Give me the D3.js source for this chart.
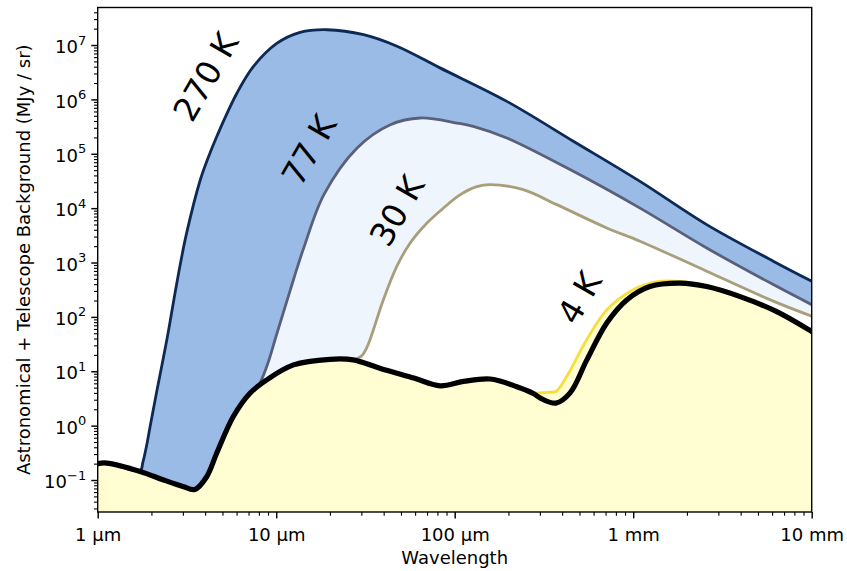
<!DOCTYPE html>
<html>
<head>
<meta charset="utf-8">
<script src="https://cdn.jsdelivr.net/npm/d3@7"></script>
<style>
  body { margin: 0; background: #fff; }
  text { font-family: "DejaVu Sans", sans-serif; }
</style>
</head>
<body>
<svg id="chart" width="847" height="571"></svg>
<script>
// Points are [wavelength in µm, surface brightness in MJy/sr].
// Astronomical background (zodiacal light, cirrus, CMB).
const astroBackground = [
  [1, 0.20], [1.12, 0.205], [1.73, 0.144], [2.34, 0.10], [3.0, 0.076], [3.5, 0.067],
  [4.08, 0.115], [4.64, 0.31], [5.75, 1.47], [7.13, 3.95], [8.85, 6.95], [12.5, 13.1],
  [20, 16.6], [27, 16.2], [38, 11.4], [59, 7.5], [83, 5.4], [112, 6.5], [158, 7.2],
  [223, 5.2], [276, 3.9], [302, 3.2], [369, 2.6], [443, 4.0], [549, 16], [711, 77],
  [920, 205], [1240, 361], [1830, 417], [2580, 361], [3970, 236], [6370, 125], [10000, 54]
];

// Total background with the telescope at each temperature, from where it
// rises above the astronomical background.
const total270K = [
  [1.73, 0.15], [1.79, 0.21], [1.88, 0.43], [1.97, 1.0], [2.14, 4.2], [2.44, 38],
  [2.67, 205], [2.9, 920], [3.15, 3500], [3.74, 3.16e4], [4.1, 7.5e4], [4.64, 2.06e5],
  [6.03, 1.31e6], [7.44, 4.0e6], [10.07, 1.07e7], [13.6, 1.71e7], [19.3, 1.91e7],
  [30.9, 1.55e7], [47.5, 9.5e6], [82.7, 3.8e6], [196, 9.2e5], [462, 1.7e5],
  [1092, 3.1e4], [2580, 4980], [6090, 1060], [10000, 453]
];
const total77K = [
  [7.9, 5.3], [8.85, 12.2], [10.1, 50], [12.0, 313], [13.1, 795], [14.3, 1900],
  [18.5, 1.77e4], [28.4, 1.28e5], [43.6, 3.43e5], [64.2, 4.55e5], [103, 3.68e5],
  [127, 3.2e5], [196, 1.95e5], [462, 4.75e4], [1092, 1.0e4], [2580, 1850],
  [6090, 393], [10000, 168]
];
const total30K = [
  [27, 16.4], [30, 19], [32.3, 28], [39.8, 205], [47.3, 841], [56.2, 2265],
  [69.7, 5270], [86.3, 9950], [107, 1.75e4], [133, 2.48e4], [158, 2.7e4],
  [242, 2.19e4], [373, 1.16e4], [711, 4330], [1092, 2470], [2580, 692],
  [6090, 195], [10000, 103]
];
const total4K = [
  [276, 4.0], [330, 4.1], [370, 4.3], [424, 8.0], [549, 38], [711, 134], [1000, 315],
  [1355, 445], [1830, 450], [2580, 380], [3970, 248], [6370, 130], [10000, 56]
];

const curveLabels = ["270 K", "77 K", "30 K", "4 K"];
const curveLabelAnchors = [[4.04, 2.6e6], [15.3, 1.17e5], [47.5, 8.9e3], [500, 224]];

const wavelengthTicks = [1, 10, 100, 1000, 10000];
const wavelengthTickLabels = ["1 µm", "10 µm", "100 µm", "1 mm", "10 mm"];
const brightnessExponents = [-1, 0, 1, 2, 3, 4, 5, 6, 7];

// Full curve: astronomical background up to the departure point, then the excess branch.
function withBackground(branch) {
  return astroBackground.filter(d => d[0] < branch[0][0]).concat(branch);
}

const svg = d3.select("#chart");
const plotLeft = 97.7, plotRight = 811.7, plotTop = 7.5, plotBottom = 512;

const x = d3.scaleLog().domain([1, 10000]).range([plotLeft, plotRight]);
const y = d3.scaleLog().domain([0.0258, 4.9e7]).range([plotBottom, plotTop]);

svg.append("defs").append("clipPath").attr("id", "plot-clip")
  .append("rect").attr("x", plotLeft).attr("y", plotTop)
  .attr("width", plotRight - plotLeft).attr("height", plotBottom - plotTop);

const plot = svg.append("g").attr("clip-path", "url(#plot-clip)");

const smooth = d3.curveCatmullRom.alpha(0.5);
const area = d3.area()
  .x(d => x(d[0])).y0(plotBottom).y1(d => y(d[1]))
  .curve(smooth);
const line = d3.line()
  .x(d => x(d[0])).y(d => y(d[1]))
  .curve(smooth);

const series = [
  { data: withBackground(total270K), fill: "#9abbe6", stroke: "#0c2a55", width: 2.8 },
  { data: withBackground(total77K),  fill: "#eef5fd", stroke: "#5a6079", width: 2.8 },
  { data: withBackground(total30K),  fill: "#ffffff", stroke: "#a89e7a", width: 2.8 },
  { data: withBackground(total4K),   fill: "#fffdd1", stroke: "#f6df3a", width: 2.8 }
];

// Painted from warmest to coldest so each band shows between neighbours.
series.forEach(s => {
  plot.append("path").attr("d", area(s.data)).attr("fill", s.fill);
});
series.forEach(s => {
  plot.append("path").attr("d", line(s.data))
    .attr("fill", "none").attr("stroke", s.stroke)
    .attr("stroke-width", s.width).attr("stroke-linejoin", "round");
});
plot.append("path").attr("d", line(astroBackground))
  .attr("fill", "none").attr("stroke", "#000")
  .attr("stroke-width", 5.2).attr("stroke-linejoin", "round").attr("stroke-linecap", "round");

// Temperature labels
curveLabels.forEach((t, i) => {
  const [wx, wy] = curveLabelAnchors[i];
  svg.append("text")
    .attr("transform", `translate(${x(wx)},${y(wy)}) rotate(-60)`)
    .attr("text-anchor", "middle")
    .attr("dominant-baseline", "central")
    .attr("font-size", 33)
    .attr("fill", "#000")
    .text(t);
});

// Minor ticks
function minorValues(lo, hi) {
  const out = [];
  for (let e = Math.floor(Math.log10(lo)); e <= Math.ceil(Math.log10(hi)); e++) {
    for (let m = 2; m <= 9; m++) {
      const v = m * Math.pow(10, e);
      if (v >= lo && v <= hi) out.push(v);
    }
  }
  return out;
}

const xMinor = svg.append("g").attr("transform", `translate(0,${plotBottom})`)
  .call(d3.axisBottom(x).tickValues(minorValues(1, 10000)).tickSize(3.7).tickFormat(""));
const yMinor = svg.append("g").attr("transform", `translate(${plotLeft},0)`)
  .call(d3.axisLeft(y).tickValues(minorValues(0.0258, 4.9e7)).tickSize(3.7).tickFormat(""));
[xMinor, yMinor].forEach(g => {
  g.select(".domain").remove();
  g.selectAll(".tick line").attr("stroke", "#000").attr("stroke-width", 1.1);
});

// Major x ticks
const xAxis = svg.append("g").attr("transform", `translate(0,${plotBottom})`)
  .call(d3.axisBottom(x).tickValues(wavelengthTicks).tickSize(6.4).tickPadding(10)
    .tickFormat((d, i) => wavelengthTickLabels[i]));
xAxis.select(".domain").remove();
xAxis.selectAll(".tick line").attr("stroke", "#000").attr("stroke-width", 1.45);
xAxis.selectAll(".tick text").attr("font-size", 18).attr("fill", "#000")
  .attr("font-family", "DejaVu Sans");

// Major y ticks with power-of-ten labels
const yAxis = svg.append("g").attr("transform", `translate(${plotLeft},0)`)
  .call(d3.axisLeft(y).tickValues(brightnessExponents.map(e => Math.pow(10, e)))
    .tickSize(6.4).tickFormat(""));
yAxis.select(".domain").remove();
yAxis.selectAll(".tick line").attr("stroke", "#000").attr("stroke-width", 1.45);
yAxis.selectAll(".tick").each(function(d, i) {
  const e = brightnessExponents[i];
  const t = d3.select(this).append("text")
    .attr("x", -11.5).attr("y", 7.7)
    .attr("text-anchor", "end").attr("fill", "#000")
    .attr("font-family", "DejaVu Sans").attr("font-size", 18);
  t.append("tspan").text("10");
  t.append("tspan").attr("font-size", 13).attr("dy", -8.6)
    .text(e < 0 ? "\u2212" + Math.abs(e) : String(e));
});

// Frame
svg.append("rect")
  .attr("x", plotLeft).attr("y", plotTop)
  .attr("width", plotRight - plotLeft).attr("height", plotBottom - plotTop)
  .attr("fill", "none").attr("stroke", "#000").attr("stroke-width", 1.4);

// Axis titles
svg.append("text")
  .attr("x", (plotLeft + plotRight) / 2).attr("y", 564)
  .attr("text-anchor", "middle").attr("font-size", 18).attr("fill", "#000")
  .text("Wavelength");
svg.append("text")
  .attr("transform", `translate(30,${(plotTop + plotBottom) / 2}) rotate(-90)`)
  .attr("text-anchor", "middle").attr("font-size", 18).attr("fill", "#000")
  .text("Astronomical + Telescope Background (MJy / sr)");
</script>
</body>
</html>
